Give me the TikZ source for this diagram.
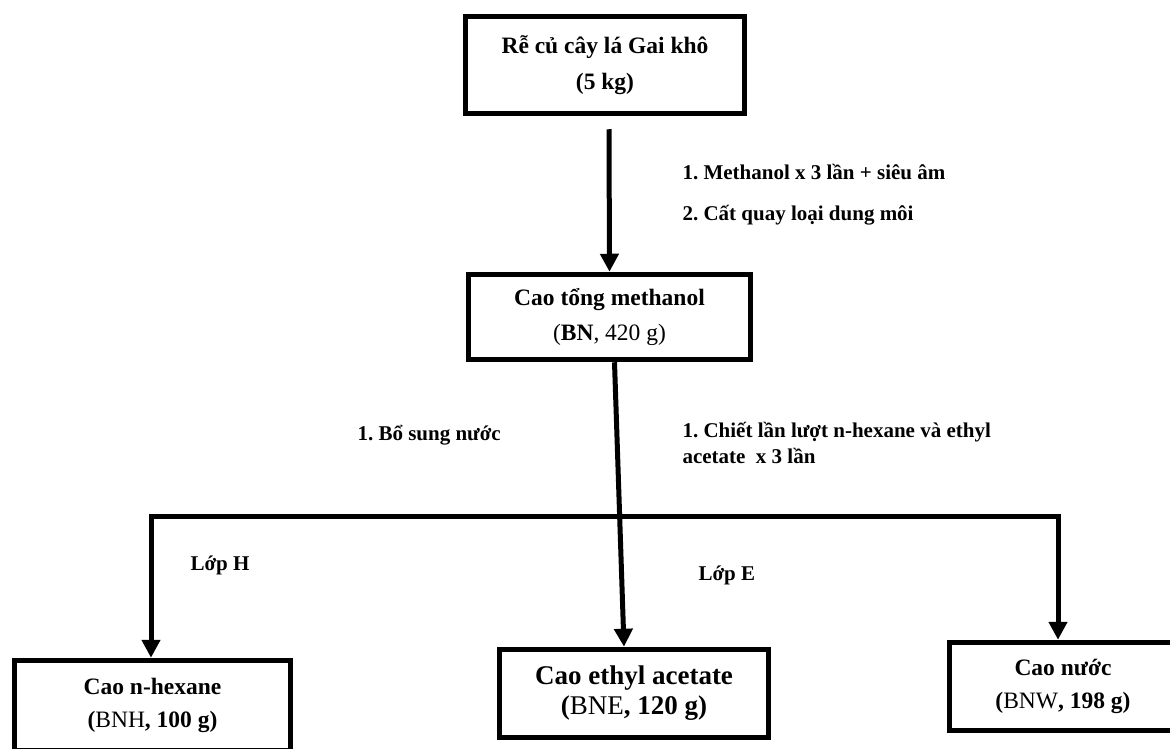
\documentclass[tikz,border=0pt]{standalone}
\usepackage{fontspec}
\setmainfont{Liberation Serif}
\usetikzlibrary{arrows.meta, positioning}
\frenchspacing

\tikzset{
    box/.style={draw, line width=5.5pt, align=center, inner sep=0pt},
    flow/.style={line width=5pt, -{Triangle[length=18pt, width=18pt]}},
    note/.style={anchor=base west, font=\fontsize{21}{26}\selectfont\bfseries},
}

\begin{document}
\begin{tikzpicture}[x=1pt, y=-1pt]
    % Page frame
    \useasboundingbox (0,0) rectangle (1170,749);
    \clip (0,0) rectangle (1170,749);

    % Draw the boxes
    \node[box, minimum width=279pt, minimum height=97pt, font=\fontsize{23.5}{36}\selectfont\bfseries]
        (root) at (605,65) {Rễ củ cây lá Gai khô\\(5 kg)};
    \node[box, minimum width=282pt, minimum height=85pt, font=\fontsize{23.5}{35}\selectfont\bfseries]
        (bn) at (609.5,317) {Cao tổng methanol\\{\mdseries(}BN{\mdseries, 420 g)}};
    \node[box, minimum width=276pt, minimum height=90pt, font=\fontsize{23.5}{33}\selectfont\bfseries]
        (bnh) at (152.5,705.5) {Cao n-hexane\\({\mdseries BNH}, 100 g)};
    \node[box, minimum width=269pt, minimum height=88pt, font=\fontsize{27}{30}\selectfont\bfseries]
        (bne) at (634,693.5) {Cao ethyl acetate\\({\mdseries BNE}, 120 g)};
    \node[box, minimum width=227pt, minimum height=88pt, font=\fontsize{23.5}{33}\selectfont\bfseries]
        (bnw) at (1063,686.5) {Cao nước\\({\mdseries BNW}, 198 g)};

    % Draw the connectors
    \draw[flow] ([xshift=4pt, yshift=-13pt]root.south) -- (bn.north);
    \draw[flow] ([xshift=5pt]bn.south) -- ([xshift=-10pt]bne.north);

    \coordinate (hl) at (151,516);
    \coordinate (hr) at (1058,516);
    \draw[flow, {Triangle[length=18pt, width=18pt]}-{Triangle[length=18pt, width=18pt]}]
        (hl |- bnh.north) -- (hl) -- (hr) -- (hr |- bnw.north);

    % Annotations
    \node[note] (meth) at (679,179) {1. Methanol x 3 lần + siêu âm};
    \node[note] (evap) at (679,220) {2. Cất quay loại dung môi};
    \node[note] (water) at (354,440) {1. Bổ sung nước};
    \node[note] (extr) at (679,437) {1. Chiết lần lượt n-hexane và ethyl};
    \node[note] (extrb) at (679,463) {acetate\ \ x 3 lần};
    \node[note] (layh) at (187,570) {Lớp H};
    \node[note] (laye) at (695,580) {Lớp E};
\end{tikzpicture}
\end{document}
